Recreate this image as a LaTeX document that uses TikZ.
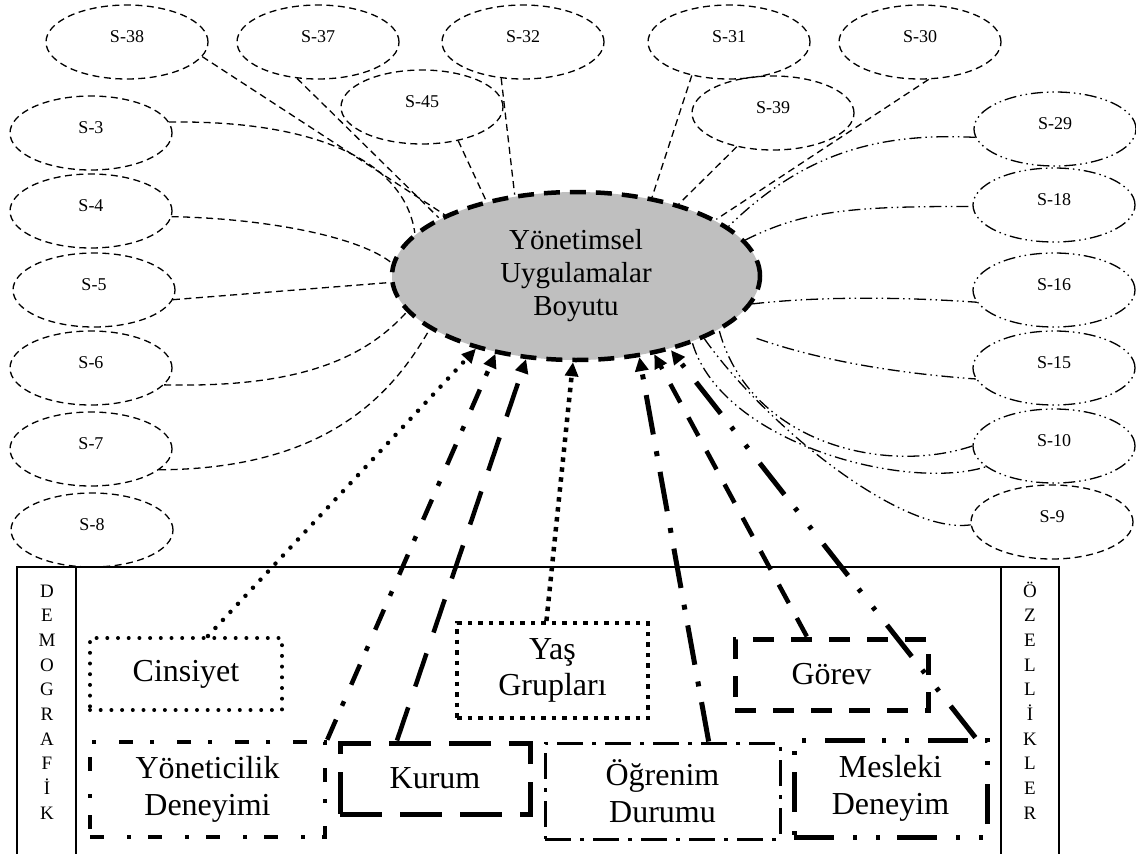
\documentclass[tikz,border=0pt]{standalone}
\usepackage{fontspec}
\setmainfont{Liberation Serif}
\usetikzlibrary{shapes.geometric,arrows.meta}
\definecolor{cfill}{RGB}{191,191,191}
\begin{document}
\begin{tikzpicture}[x=1pt,y=-1pt,
  sm/.style={ellipse, draw, minimum width=162pt, minimum height=74pt, inner sep=0pt, line width=1.3pt, font=\fontsize{18}{20}\selectfont, text depth=10pt},
  smd/.style={sm, dash pattern=on 7pt off 4.5pt},
  smddd/.style={sm, dash pattern=on 12pt off 4pt on 1.5pt off 4pt on 1.5pt off 4pt},
  lnd/.style={line width=1.3pt, dash pattern=on 7pt off 4.5pt},
  lnddd/.style={line width=1.3pt, dash pattern=on 12pt off 4pt on 1.5pt off 4pt on 1.5pt off 4pt},
  letter/.style={anchor=base, inner sep=0pt, font=\fontsize{19}{20}\selectfont},
  box/.style={draw, rectangle, inner sep=0pt, align=center, font=\fontsize{32}{36.8}\selectfont},
  cinbox/.style={box, line width=4pt, line cap=round, dash pattern=on 0pt off 10.7pt},
  yasbox/.style={box, line width=4pt, dash pattern=on 4.5pt off 6pt},
  yonbox/.style={box, line width=4.5pt, dash pattern=on 14pt off 23pt on 4pt off 17pt},
  kurbox/.style={box, line width=5pt, dash pattern=on 42pt off 18pt},
  ogrbox/.style={box, line width=3pt, dash pattern=on 26pt off 9pt on 4pt off 9pt},
  gorbox/.style={box, line width=5pt, dash pattern=on 21pt off 17pt},
  mesbox/.style={box, line width=5pt, dash pattern=on 40pt off 19pt on 4pt off 19pt on 4pt off 17pt},
  arr/.style={-{Triangle[length=14pt,width=13pt]}},
  cinarr/.style={arr, line width=4.5pt, line cap=round, dash pattern=on 0pt off 11pt},
  yonarr/.style={arr, line width=4.5pt, dash pattern=on 22pt off 15pt on 5pt off 18pt},
  kurarr/.style={arr, line width=4.5pt, dash pattern=on 35pt off 22pt},
  yasarr/.style={arr, line width=4.5pt, dash pattern=on 4.5pt off 5.5pt},
  ograrr/.style={arr, line width=5pt, dash pattern=on 40pt off 16pt on 5pt off 17pt},
  gorarr/.style={arr, line width=4.5pt, dash pattern=on 21pt off 17pt},
  mesarr/.style={arr, line width=5pt, dash pattern=on 40pt off 19pt on 4pt off 19pt on 4pt off 17pt},
  frame/.style={line width=1.5pt}
]
\useasboundingbox (0,0) rectangle (1136,854);
\clip (0,0) rectangle (1136,854);

% small ellipses
\node[smd] (s38) at (127,42) {S-38};
\node[smd] (s37) at (318,42) {S-37};
\node[smd] (s32) at (523,42) {S-32};
\node[smd] (s31) at (729,42) {S-31};
\node[smd] (s30) at (920,42) {S-30};
\node[smd] (s45) at (422,107) {S-45};
\node[smd] (s39) at (773,113) {S-39};
\node[smd] (s3) at (91,133) {S-3};
\node[smd] (s4) at (91,211) {S-4};
\node[smd] (s5) at (94,290) {S-5};
\node[smd] (s6) at (91,368) {S-6};
\node[smd] (s7) at (91,449) {S-7};
\node[smd] (s8) at (92,530) {S-8};
\node[smddd] (s29) at (1055,129) {S-29};
\node[smddd] (s18) at (1054,205) {S-18};
\node[smddd] (s16) at (1054,290) {S-16};
\node[smddd] (s15) at (1054,368) {S-15};
\node[smddd] (s10) at (1054,446) {S-10};
\node[smd] (s9) at (1052,522) {S-9};

% center
\node[ellipse, draw, fill=cfill, line width=4.5pt, dash pattern=on 16pt off 10pt,
  minimum width=368pt, minimum height=168pt, inner sep=0pt, align=center,
  font=\fontsize{29}{33}\selectfont] (c) at (576,276) {Yönetimsel\\Uygulamalar\\Boyutu};

% connectors top
\draw[lnd] (s38.-11) -- (c.155);
\draw[lnd] (s37.-120) -- (c.157);
\draw[lnd] (s3.8) .. controls +(150,-2) and +(-10,-70) .. (c.165);
\draw[lnd] (s45.-43) -- (c.140);
\draw[lnd] (s32.-121) -- (c.127);
\draw[lnd] (s31.-138) -- (c.46);
\draw[lnd] (s39.-137) -- (c.35);
\draw[lnd] (s30.-77) -- (c.22);
\draw[lnddd] (s29.186) .. controls +(-100,-5) and +(74,-72) .. (c.18);
% connectors right
\draw[lnddd] (c.12) .. controls +(60,-30) and +(-120,0) .. (s18.181);
\draw[lnddd] (c.-9) .. controls +(70,-8) and +(-70,-5) .. (s16.189);
\draw[lnddd, shorten <=33pt] (c.-19) .. controls +(100,35) and +(-70,-5) .. (s15.188);
\draw[lnddd] (c.-21) .. controls +(30,110) and +(-90,30) .. (s10.180);
\draw[lnddd] (c.-30) .. controls +(30,100) and +(-80,25) .. (s10.197);
\draw[lnddd] (c.-26) .. controls +(60,85) and +(-70,10) .. (s9.182);
% connectors left
\draw[lnd] (s4.-4) .. controls +(100,2) and +(-30,-25) .. (c.176);
\draw[lnd] (s5.-7) -- (c.182);
\draw[lnd] (s6.-13) .. controls +(128,3) and +(-45,50) .. (c.192);
\draw[lnd] (s7.-17) .. controls +(163,-1) and +(-40,70) .. (c.200);

% frame
\draw[frame] (17,880) -- (17,567) -- (1059,567) -- (1059,880);
\draw[frame] (76,567) -- (76,880) (1001,567) -- (1001,880);
\foreach \l [count=\i from 0] in {D,E,M,O,G,R,A,F,İ,K}
  \node[letter] (dl\i) at (47,{597+24.7*\i}) {\l};
\foreach \l [count=\i from 0] in {Ö,Z,E,L,L,İ,K,L,E,R}
  \node[letter] (ol\i) at (1030,{597+24.7*\i}) {\l};

% boxes
\node[cinbox, minimum width=192pt, minimum height=72pt] (cin) at (186,674) {Cinsiyet};
\node[yonbox, minimum width=235pt, minimum height=95pt] (yon) at (207.5,789.5) {Yöneticilik\\Deneyimi};
\node[kurbox, minimum width=190pt, minimum height=71pt] (kur) at (435,778.5) {Kurum};
\node[yasbox, minimum width=191pt, minimum height=95pt] (yas) at (552.5,670.5) {Yaş\\Grupları};
\node[ogrbox, minimum width=235pt, minimum height=96pt] (ogr) at (662.5,791) {Öğrenim\\Durumu};
\node[gorbox, minimum width=193pt, minimum height=71pt] (gor) at (831.5,674.5) {Görev};
\node[mesbox, minimum width=193pt, minimum height=97pt] (mes) at (890.5,788.5) {Mesleki\\Deneyim};

% arrows
\draw[cinarr] (cin.60) -- (c.-144);
\draw[yonarr] (yon.north east) -- (c.-136);
\draw[kurarr] (kur.135) -- (c.-121);
\draw[yasarr] (yas.97) -- (c.-92);
\draw[ograrr] (ogr.47) -- (c.-52);
\draw[gorarr] (gor.123) -- (c.-45);
\draw[mesarr] (mes.31) -- (c.-38);
\end{tikzpicture}
\end{document}
